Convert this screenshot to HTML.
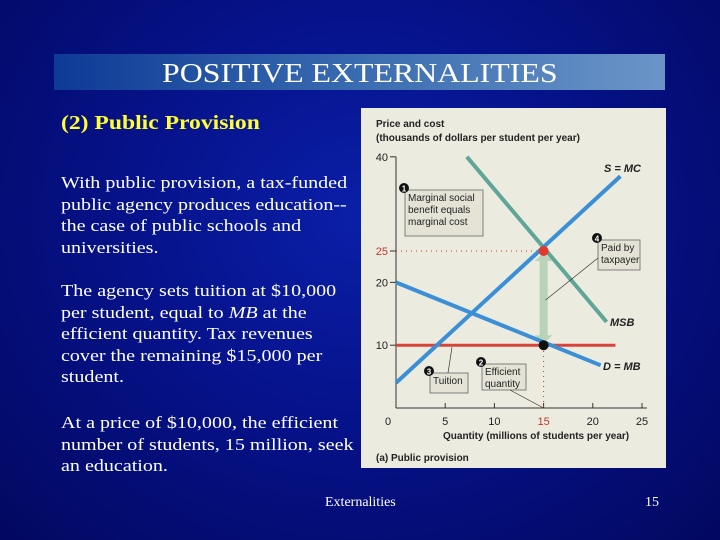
<!DOCTYPE html>
<html><head><meta charset="utf-8"><style>
html,body{margin:0;padding:0}
body{width:720px;height:540px;overflow:hidden;position:relative;background:radial-gradient(ellipse at 50% 40%,#0a1fa8 0%,#06128a 45%,#020860 100%);font-family:"Liberation Serif",serif;color:#fff}
.t{position:absolute}
.sx{transform:scaleX(1.18);transform-origin:0 0;white-space:nowrap}
#bar{left:54px;top:54px;width:611px;height:36px;background:linear-gradient(90deg,#0d3a96,#3a6cb0 50%,#6b95c8)}
.body{font-size:17px;line-height:21.5px;left:61px;width:250px;white-space:normal}
</style></head><body>
<div id="bar" class="t"></div>
<div class="t sx" style="left:162px;top:54px;font-size:27px;line-height:38px">POSITIVE EXTERNALITIES</div>
<div class="t sx" style="left:61px;top:112px;font-size:20px;font-weight:bold;color:#ffff33">(2) Public Provision</div>
<div class="t body sx" style="top:172px;white-space:normal">With public provision, a tax-funded public agency produces education--the case of public schools and universities.</div>
<div class="t body sx" style="top:280px;white-space:normal">The agency sets tuition at $10,000 per student, equal to <i>MB</i> at the efficient quantity. Tax revenues cover the remaining $15,000 per student.</div>
<div class="t body sx" style="top:412px;width:252px;white-space:normal">At a price of $10,000, the efficient number of students, 15 million, seek an education.</div>
<div class="t sx" style="left:325px;top:495px;font-size:14px;transform:scaleX(1)">Externalities</div>
<div class="t" style="left:645px;top:495px;font-size:14px">15</div>
<svg class="t" style="left:0;top:0" width="720" height="540" font-family="Liberation Sans, sans-serif">
<rect x="361" y="108" width="305" height="360" fill="#ecebdf"/>
<g id="g"></g>
</svg>
<script>
const xTicks=[0,5,10,15,20,25];
const yTicks=[10,20,25,40];
const supply=[[0,4],[22.8,36.9]];
const msb=[[7.2,40],[21.4,13.7]];
const demand=[[0,20],[20.8,6.8]];
const tuition=[[0,10],[22.3,10]];
const effQ=15, effP=25, tuitionP=10;
const X=v=>396+v*9.84, Y=v=>408-v*6.28;
const g=document.getElementById('g');const NS='http://www.w3.org/2000/svg';
function el(t,a,txt){const e=document.createElementNS(NS,t);for(const k in a)e.setAttribute(k,a[k]);if(txt!==undefined)e.textContent=txt;g.appendChild(e);return e;}
let e;
e=el('text',{x:376,y:127,'font-size':10,'font-weight':'bold',fill:'#222'},'Price and cost');

e=el('text',{x:376,y:141,'font-size':10,'font-weight':'bold',fill:'#222'},'(thousands of dollars per student per year)');

e=el('line',{x1:X(0),y1:Y(0),x2:X(0),y2:Y(40),stroke:'#333','stroke-width':1});

e=el('line',{x1:X(0),y1:Y(0),x2:X(25.5),y2:Y(0),stroke:'#333','stroke-width':1});

xTicks.forEach(v=>{
 if(v>0){e=el('line',{x1:X(v),y1:Y(0),x2:X(v),y2:Y(0)-5,stroke:'#333'});}
 e=el('text',{x:X(v)-(v?0:8),y:425,'font-size':11,'text-anchor':'middle',fill:v===effQ?'#c0392b':'#222'},v);
 
});
yTicks.forEach(v=>{
 e=el('line',{x1:X(0)-6,y1:Y(v),x2:X(0),y2:Y(v),stroke:'#333'});
 
 e=el('text',{x:388,y:Y(v)+4,'font-size':11,'text-anchor':'end',fill:v===effP?'#c0392b':'#222'},v);
 
});
e=el('text',{x:443,y:439,'font-size':10,'font-weight':'bold',fill:'#222'},'Quantity (millions of students per year)');

e=el('text',{x:376,y:461,'font-size':10,'font-weight':'bold',fill:'#222'},'(a) Public provision');

e=el('line',{x1:X(0),y1:Y(effP),x2:X(effQ),y2:Y(effP),stroke:'#c0392b','stroke-dasharray':'1 4'});

e=el('line',{x1:X(effQ),y1:Y(effP),x2:X(effQ),y2:Y(0),stroke:'#c0392b','stroke-dasharray':'1 4'});

e=el('path',{d:`M${X(effQ)-4} ${Y(effP)+10} L${X(effQ)-9} ${Y(effP)+10} L${X(effQ)} ${Y(effP)+2} L${X(effQ)+9} ${Y(effP)+10} L${X(effQ)+4} ${Y(effP)+10} L${X(effQ)+4} ${Y(tuitionP)-10} L${X(effQ)+9} ${Y(tuitionP)-10} L${X(effQ)} ${Y(tuitionP)-2} L${X(effQ)-9} ${Y(tuitionP)-10} L${X(effQ)-4} ${Y(tuitionP)-10}Z`,fill:'#b9d3b9'});

function line(p,c,w){return el('line',{x1:X(p[0][0]),y1:Y(p[0][1]),x2:X(p[1][0]),y2:Y(p[1][1]),stroke:c,'stroke-width':w});}
e=line(tuition,'#d9443a',3);
e=line(msb,'#5fa699',4);
e=line(demand,'#3b8fd6',4);
e=line(supply,'#3b8fd6',4);
e=el('circle',{cx:X(effQ),cy:Y(effP),r:5,fill:'#e03a2e'});
e=el('circle',{cx:X(effQ),cy:Y(tuitionP),r:5,fill:'#111'});
e=el('text',{x:604,y:172,'font-size':11,'font-weight':'bold','font-style':'italic',fill:'#222'},'S = MC');
e=el('text',{x:610,y:326,'font-size':11,'font-weight':'bold','font-style':'italic',fill:'#222'},'MSB');
e=el('text',{x:603,y:370,'font-size':11,'font-weight':'bold','font-style':'italic',fill:'#222'},'D = MB');
function box(x,y,w,h,lines,num,name){
 e=el('rect',{x:x,y:y,width:w,height:h,fill:'#e4e3d6',stroke:'#666','stroke-width':0.8});
 lines.forEach((s,i)=>{e=el('text',{x:x+3,y:y+11+i*12,'font-size':10,fill:'#222'},s);});
 e=el('circle',{cx:x-1,cy:y-2,r:5,fill:'#111'});
 e=el('text',{x:x-1,y:y+1.5,'font-size':8,'font-weight':'bold','text-anchor':'middle',fill:'#fff'},num);
}
box(405,190,78,46,['Marginal social','benefit equals','marginal cost'],'1','callout-mc');
box(598,240,42,30,['Paid by','taxpayer'],'4','callout-taxpayer');
box(430,373,38,20,['Tuition'],'3','callout-tuition');
box(482,364,44,26,['Efficient','quantity'],'2','callout-efficient');
e=el('line',{x1:598,y1:258,x2:X(effQ)+2,y2:300,stroke:'#333','stroke-width':0.7});
e=el('line',{x1:448,y1:373,x2:452,y2:Y(tuitionP)+2,stroke:'#333','stroke-width':0.7});
e=el('line',{x1:510,y1:390,x2:X(effQ),y2:Y(0),stroke:'#333','stroke-width':0.7});
</script>
</body></html>
